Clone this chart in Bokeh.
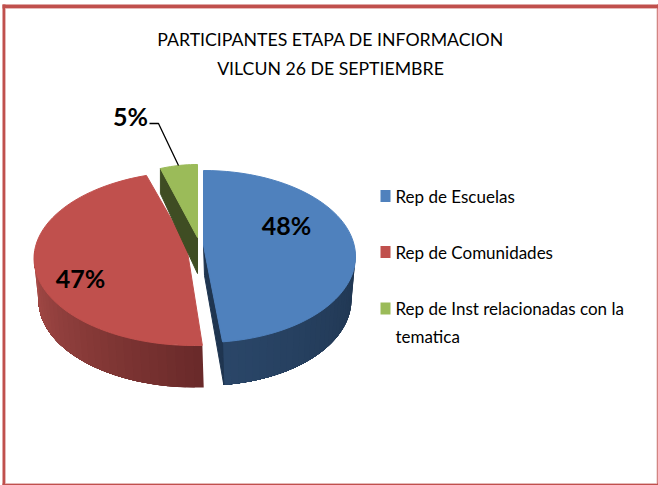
import numpy as np
from bokeh.plotting import figure
from bokeh.core.properties import value
from bokeh.embed import file_html
from bokeh.resources import INLINE

TITLE_LINES = ["PARTICIPANTES ETAPA DE INFORMACION", "VILCUN 26 DE SEPTIEMBRE"]
CATEGORIES = ["Rep de Escuelas", "Rep de Comunidades", "Rep de Inst relacionadas con la\ntematica"]
SHARES = [48, 47, 5]
COLORS = ["#4f81bd", "#c0504d", "#9bbb59"]
FONT = "Lato"
FRAME = "#c0504d"

W, H = 658, 485
p = figure(width=W, height=H, x_range=(0, W), y_range=(H, 0), output_backend="svg",
           toolbar_location=None, min_border=0, outline_line_color=None,
           x_axis_type=None, y_axis_type=None)
p.grid.visible = False
p.background_fill_color = "white"
p.border_fill_color = "white"

# frame
p.quad(left=[2, 2, 2, 656.5], right=[5, 658, 658, 657.5], top=[4, 4, 483, 4], bottom=[485, 8, 485, 485],
       fill_color=FRAME, line_color=None)
p.quad(left=[5], right=[656.5], top=[8], bottom=[483], fill_color=None, line_color="#e6b9b8", line_width=1)

# pie geometry: each slice has its own projected ellipse
angles = np.cumsum([0] + SHARES) / sum(SHARES) * 360
GEOM = [
    dict(top=(203, 256, 152, 86), bot=(205, 299, 146, 86), apex=(203, 245), trim=(0, 0)),
    dict(top=(193.5, 258, 160, 87), bot=(195, 300, 157, 87), apex=(186, 245), trim=(4.2, 0.7)),
    dict(top=(197, 246, 120, 82), bot=(197, 271, 120, 82), apex=(197, 237), trim=(0, 0)),
]

def arc(e, a0, a1, n=60):
    t = np.radians(np.linspace(a0, a1, n))
    return e[0] + e[2] * np.sin(t), e[1] - e[3] * np.cos(t)

def mix(c0, c1, f):
    return "#%02x%02x%02x" % tuple(int(round(a + (b - a) * f)) for a, b in zip(c0, c1))

def strips(g, a0, a1, c0, c1, n=30):
    e = np.linspace(a0, a1, n + 1)
    for i in range(n):
        # each strip runs on to the far end, so that the later strip covers it without a seam
        tx, ty = arc(g["top"], e[i], a1, 30)
        bx, by = arc(g["bot"], a1, e[i], 30)
        c = mix(c0, c1, i / (n - 1))
        p.patch(list(tx) + list(bx), list(ty) + list(by), fill_color=c, line_color=None)

# red
g = GEOM[1]; a0, a1 = angles[1] + g["trim"][0], angles[2] + g["trim"][1]
strips(g, a0, 275, (0x6a, 0x2a, 0x2a), (0xa8, 0x4c, 0x48))
x, y = arc(g["top"], a0, a1)
p.patch(list(x) + [g["apex"][0]], list(y) + [g["apex"][1]], fill_color=COLORS[1], line_color=COLORS[1])

# green
g = GEOM[2]; a0, a1 = angles[2], angles[3]
x0, y0 = arc(g["top"], a0, a0, 1)
ax, ay = g["apex"]
p.patch([x0[0], x0[0], ax, ax], [y0[0], y0[0] + 25, ay + 36, ay], fill_color="#3f4d23", line_color="#3f4d23")
x, y = arc(g["top"], a0, a1, 12)
p.patch(list(x) + [ax], list(y) + [ay], fill_color=COLORS[2], line_color=COLORS[2])

# blue
g = GEOM[0]; a0, a1 = angles[0], angles[1]
strips(g, 85, a1, (0x1f, 0x35, 0x50), (0x2a, 0x46, 0x68))
ex, ey = arc(g["top"], a1, a1, 1)
bx, by = arc(g["bot"], a1, a1, 1)
ax, ay = g["apex"]
p.patch([ax, ex[0], bx[0], ax + 1], [ay, ey[0], by[0], ay + 30], fill_color="#1f3550", line_color="#1f3550")
x, y = arc(g["top"], a0, a1)
p.patch(list(x) + [ax], list(y) + [ay], fill_color=COLORS[0], line_color=COLORS[0])

# leader
p.line([149, 158, 178], [123, 123, 165], line_color="black", line_width=1.3)

# title
p.text([330, 330], [39, 68], text=TITLE_LINES, text_font=value(FONT), text_font_size="17.7px",
       text_align="center", text_baseline="middle", text_color="black")

# percent labels
p.text([286, 80, 130], [224, 277, 115], text=[f"{s}%" for s in SHARES], text_font=value(FONT),
       text_font_size="25px", text_font_style="bold", text_align="center", text_baseline="middle",
       text_color="black")

# legend
ly = [195.5, 251.5, 308]
p.quad(left=[380] * 3, right=[390] * 3, top=[v - 6 for v in ly], bottom=[v + 6 for v in ly],
       fill_color=COLORS, line_color=None)
for cat, yy in zip(CATEGORIES, ly):
    for j, line in enumerate(cat.split("\n")):
        p.text([395], [yy + 28 * j], text=[line], text_font=value(FONT), text_font_size="17px",
               text_align="left", text_baseline="middle", text_color="black")

open("out.html", "w").write(file_html(p, INLINE))
